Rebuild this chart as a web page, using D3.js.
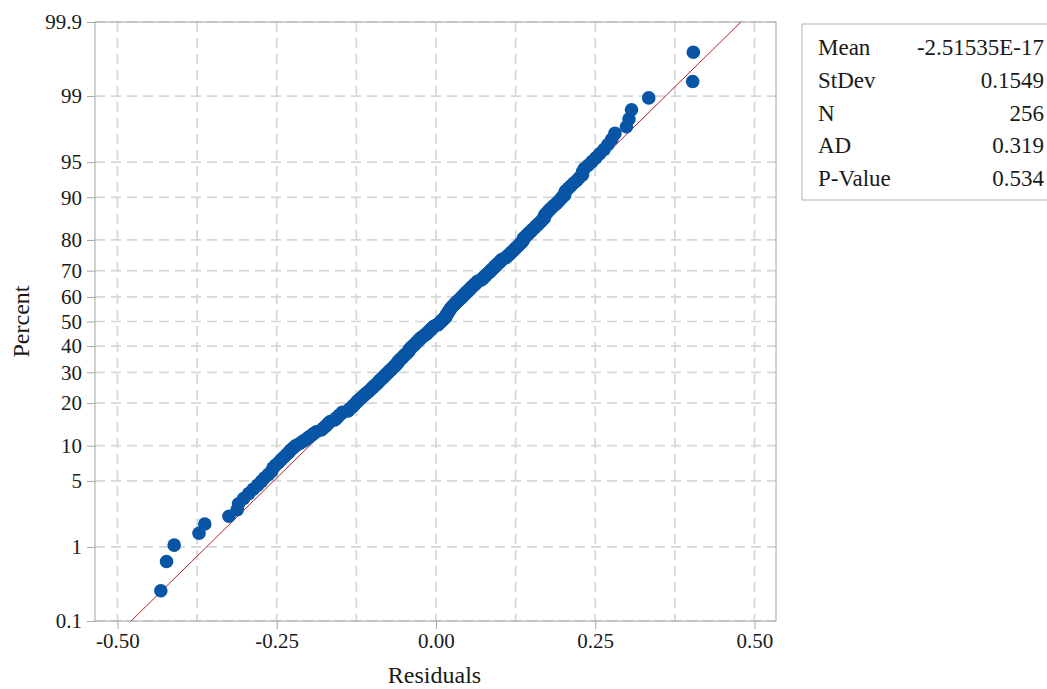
<!DOCTYPE html>
<html><head><meta charset="utf-8">
<script src="https://cdn.jsdelivr.net/npm/d3@7"></script>
<style>
body{margin:0;background:#fff}
svg{display:block}
text{font-family:"Liberation Serif","Times New Roman",serif}
</style>
</head><body>
<svg id="c" width="1047" height="689"></svg>
<script>
// Sorted residuals (x positions of the 256 points)
const residuals = [
-0.432,-0.423,-0.411,-0.372,-0.363,-0.325,-0.312,
-0.310,-0.302,-0.294,-0.287,-0.280,-0.274,-0.269,-0.263,-0.258,
-0.256,-0.252,-0.247,-0.243,-0.239,-0.235,-0.231,-0.228,-0.224,
-0.220,-0.214,-0.209,-0.204,-0.200,-0.196,-0.192,-0.188,
-0.180,-0.177,-0.174,-0.171,-0.169,-0.166,
-0.159,-0.157,-0.154,-0.152,-0.149,-0.147,
-0.138,-0.136,-0.134,-0.131,-0.129,-0.127,-0.125,-0.123,-0.121,-0.118,-0.116,-0.114,-0.112,-0.110,
-0.107,-0.105,-0.103,-0.101,-0.099,-0.097,-0.095,-0.093,-0.091,-0.090,-0.088,-0.086,-0.084,-0.082,-0.081,-0.079,
-0.077,-0.075,-0.074,-0.072,-0.070,-0.068,-0.067,-0.065,-0.063,-0.062,-0.060,
-0.060,-0.058,-0.057,-0.055,-0.053,-0.052,-0.050,-0.049,-0.047,-0.045,-0.044,-0.042,
-0.042,-0.041,-0.039,-0.038,-0.036,-0.034,-0.033,-0.031,-0.030,-0.028,-0.027,-0.025,-0.024,-0.022,-0.020,
-0.018,-0.016,-0.014,-0.013,-0.011,-0.010,-0.008,-0.007,-0.005,-0.004,-0.002,
0.003,0.004,0.006,0.007,0.009,0.010,0.012,0.013,0.015,0.016,
0.016,0.017,0.018,0.019,0.020,0.021,0.022,0.023,0.024,0.025,0.027,0.028,0.030,0.031,0.033,0.034,
0.036,0.038,0.039,0.041,0.042,0.044,0.045,0.047,0.048,0.050,0.052,0.053,0.055,0.056,0.058,0.060,0.061,0.063,0.065,0.066,
0.071,0.073,0.074,0.076,0.078,0.079,0.081,0.083,0.085,0.086,0.088,0.090,0.092,0.093,0.095,0.097,0.099,0.101,0.102,0.104,
0.109,0.111,0.113,0.115,0.117,0.119,0.121,0.123,0.125,0.127,0.129,0.131,0.133,0.135,0.137,
0.137,0.138,0.141,0.143,0.145,0.148,0.150,0.152,0.155,0.157,0.160,0.162,0.165,0.167,0.170,
0.170,0.171,0.174,0.176,0.179,0.182,0.185,0.189,0.192,0.195,0.198,0.202,
0.202,0.204,0.208,0.212,0.216,0.221,0.225,0.230,
0.230,0.233,0.239,0.245,0.251,0.257,0.264,0.270,
0.276,0.281,0.299,0.303,0.307,0.334,0.403,0.404
];
const xTickValues = [-0.5, -0.25, 0, 0.25, 0.5];
const xTickLabels = ["-0.50", "-0.25", "0.00", "0.25", "0.50"];
const xGridValues = [-0.5, -0.375, -0.25, -0.125, 0, 0.125, 0.25, 0.375, 0.5];
const yTickPercents = [0.1, 1, 5, 10, 20, 30, 40, 50, 60, 70, 80, 90, 95, 99, 99.9];
const statLabels = ["Mean", "StDev", "N", "AD", "P-Value"];
const statValues = ["-2.51535E-17", "0.1549", "256", "0.319", "0.534"];
const fitMean = -2.51535e-17;
const fitStDev = 0.1549;

// inverse standard normal CDF (Acklam)
function invNorm(p) {
  const a=[-3.969683028665376e+01,2.209460984245205e+02,-2.759285104469687e+02,1.383577518672690e+02,-3.066479806614716e+01,2.506628277459239e+00];
  const b=[-5.447609879822406e+01,1.615858368580409e+02,-1.556989798598866e+02,6.680131188771972e+01,-1.328068155288572e+01];
  const c=[-7.784894002430293e-03,-3.223964580411365e-01,-2.400758277161838e+00,-2.549671010115819e+00,4.374664141464968e+00,2.938163982698783e+00];
  const d=[7.784695709041462e-03,3.224671290700398e-01,2.445134137142996e+00,3.754408661907416e+00];
  const pl=0.02425, ph=1-pl;
  let q,r;
  if (p<pl){q=Math.sqrt(-2*Math.log(p));return (((((c[0]*q+c[1])*q+c[2])*q+c[3])*q+c[4])*q+c[5])/((((d[0]*q+d[1])*q+d[2])*q+d[3])*q+1);}
  if (p<=ph){q=p-0.5;r=q*q;return (((((a[0]*r+a[1])*r+a[2])*r+a[3])*r+a[4])*r+a[5])*q/(((((b[0]*r+b[1])*r+b[2])*r+b[3])*r+b[4])*r+1);}
  q=Math.sqrt(-2*Math.log(1-p));return -(((((c[0]*q+c[1])*q+c[2])*q+c[3])*q+c[4])*q+c[5])/((((d[0]*q+d[1])*q+d[2])*q+d[3])*q+1);
}

const svg = d3.select("#c");
const L=95, R=776, T=22, B=621;
const x = d3.scaleLinear().domain([-0.5353, 0.5338]).range([L, R]);
const yz = d3.scaleLinear().domain([invNorm(0.001), invNorm(0.999)]).range([B, T]);
const yP = p => yz(invNorm(p/100));
const FONT = '"Liberation Serif","Times New Roman",serif';

// grid
const grid = svg.append("g");
grid.selectAll("line.v").data(xGridValues).join("line")
  .attr("x1", d=>x(d)).attr("x2", d=>x(d)).attr("y1", T).attr("y2", B)
  .attr("stroke", "#d6d6d6").attr("stroke-width", 1.7).attr("stroke-dasharray", "10,6");
grid.selectAll("line.h").data(yTickPercents).join("line")
  .attr("x1", L).attr("x2", R).attr("y1", d=>yP(d)).attr("y2", d=>yP(d))
  .attr("stroke", "#d6d6d6").attr("stroke-width", 1.7).attr("stroke-dasharray", "10,6");

// frame
svg.append("rect").attr("x", L).attr("y", T).attr("width", R-L).attr("height", B-T)
  .attr("fill", "none").attr("stroke", "#a6a6a6").attr("stroke-width", 1);

// axes
const xAxis = d3.axisBottom(x).tickValues(xTickValues)
  .tickFormat((d,i)=>xTickLabels[i]).tickSize(8).tickSizeOuter(0).tickPadding(4);
const gx = svg.append("g").attr("transform", `translate(0,${B})`).call(xAxis);
gx.select(".domain").remove();
gx.selectAll(".tick line").attr("stroke", "#a6a6a6");
gx.selectAll(".tick text").attr("font-size", 21).attr("fill", "#1a1a1a").attr("font-family", FONT);

const yAxis = d3.axisLeft(yz).tickValues(yTickPercents.map(p=>invNorm(p/100)))
  .tickFormat((d,i)=>String(yTickPercents[i])).tickSize(8).tickSizeOuter(0).tickPadding(5);
const gy = svg.append("g").attr("transform", `translate(${L},0)`).call(yAxis);
gy.select(".domain").remove();
gy.selectAll(".tick line").attr("stroke", "#a6a6a6");
gy.selectAll(".tick text").attr("font-size", 21).attr("fill", "#1a1a1a").attr("font-family", FONT);

// fitted line
const zLo = invNorm(0.001), zHi = invNorm(0.999);
svg.append("line")
  .attr("x1", x(fitMean + fitStDev*zLo)).attr("y1", yz(zLo))
  .attr("x2", x(fitMean + fitStDev*zHi)).attr("y2", yz(zHi))
  .attr("stroke", "#b22222").attr("stroke-width", 1);

// points (median-rank plotting positions)
const n = residuals.length;
svg.append("g").selectAll("circle").data(residuals).join("circle")
  .attr("cx", d=>x(d))
  .attr("cy", (d,i)=>yz(invNorm((i+1-0.3)/(n+0.4))))
  .attr("r", 6.8).attr("fill", "#0855a5");

// axis titles
svg.append("text").attr("x", (L+R)/2 - 1).attr("y", 683).attr("text-anchor", "middle")
  .attr("font-size", 24).attr("fill", "#1a1a1a").text("Residuals");
svg.append("text").attr("transform", `translate(29,${(T+B)/2}) rotate(-90)`)
  .attr("text-anchor", "middle").attr("font-size", 24).attr("fill", "#1a1a1a").text("Percent");

// stats box
const lg = svg.append("g");
lg.append("rect").attr("x", 802).attr("y", 24).attr("width", 260).attr("height", 176)
  .attr("fill", "#fff").attr("stroke", "#b3b3b3").attr("stroke-width", 1);
const rowY = d3.scalePoint().domain(statLabels).range([55, 186]);
lg.selectAll("text.lab").data(statLabels).join("text")
  .attr("x", 818).attr("y", d=>rowY(d)).attr("font-size", 23).attr("fill", "#1a1a1a").text(d=>d);
lg.selectAll("text.val").data(statValues).join("text")
  .attr("x", 1044).attr("y", (d,i)=>rowY(statLabels[i])).attr("text-anchor", "end")
  .attr("font-size", 23).attr("fill", "#1a1a1a").text(d=>d);
</script>
</body></html>
